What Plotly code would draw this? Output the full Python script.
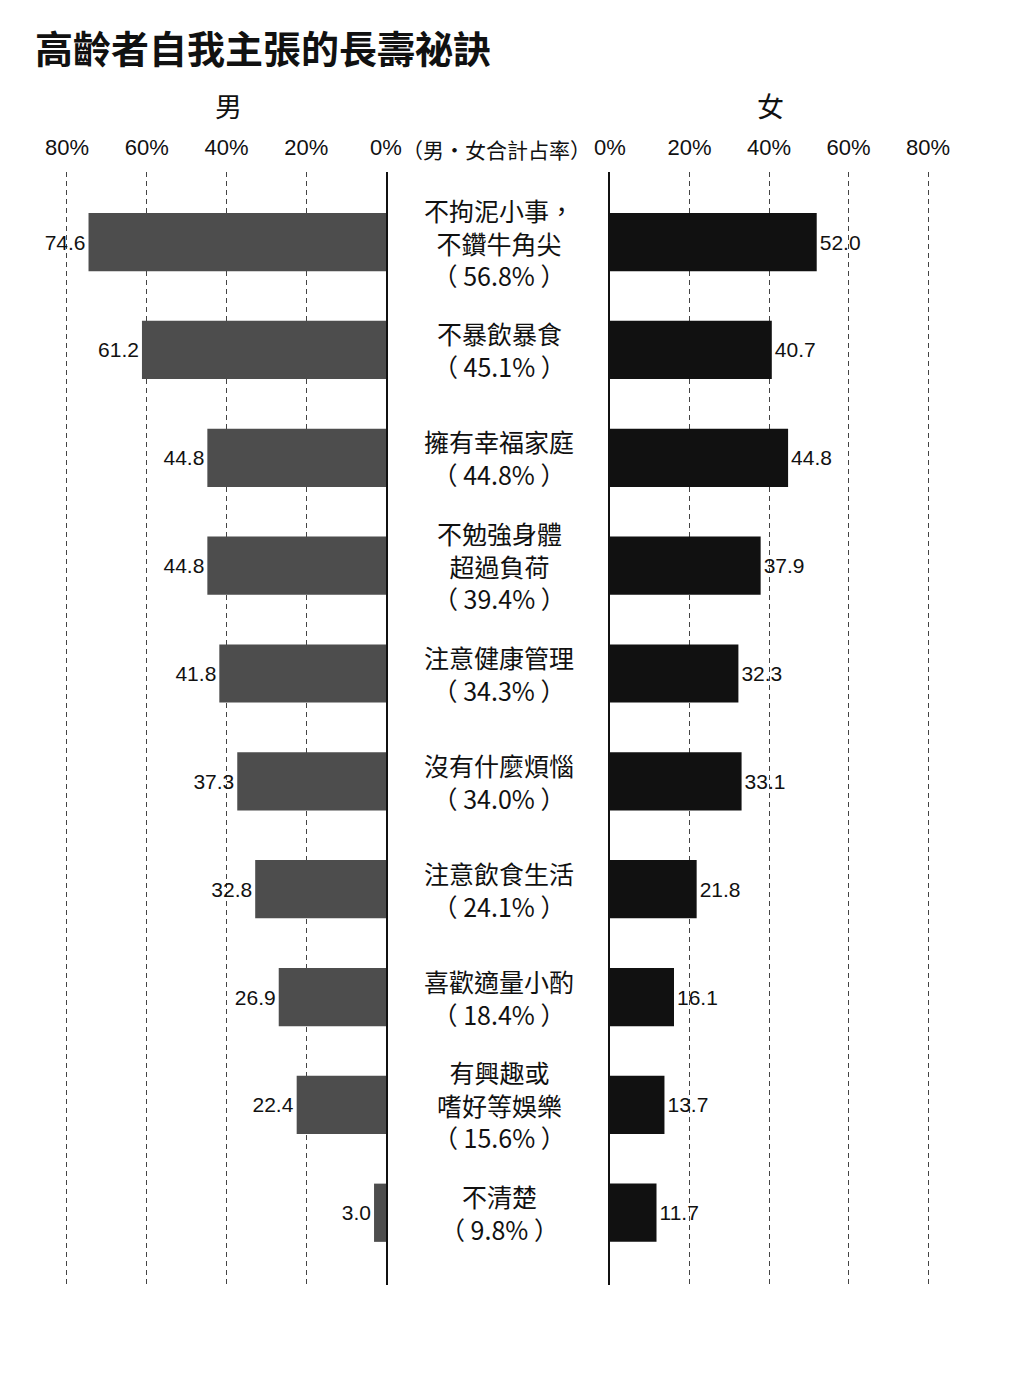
import plotly.graph_objects as go

# 資料
categories = [
    "不拘泥小事，<br>不鑽牛角尖", "不暴飲暴食", "擁有幸福家庭", "不勉強身體<br>超過負荷",
    "注意健康管理", "沒有什麼煩惱", "注意飲食生活", "喜歡適量小酌",
    "有興趣或<br>嗜好等娛樂", "不清楚",
]
male = [74.6, 61.2, 44.8, 44.8, 41.8, 37.3, 32.8, 26.9, 22.4, 3.0]
female = [52.0, 40.7, 44.8, 37.9, 32.3, 33.1, 21.8, 16.1, 13.7, 11.7]
total = [56.8, 45.1, 44.8, 39.4, 34.3, 34.0, 24.1, 18.4, 15.6, 9.8]
tick_vals = [0, 20, 40, 60, 80]
tick_text = ["0%", "20%", "40%", "60%", "80%"]

# 頁面 body 預設 8px 邊距，圖縮小並把座標往回移
PAD = 8
W, H = 1024 - 2 * PAD, 1393 - 2 * PAD
NUM_FONT = "Liberation Sans, Noto Sans CJK TC, sans-serif"
CJK_FONT = "Noto Sans CJK TC, sans-serif"


def px_x(p):
    return (p - PAD) / W


def px_y(p):
    return 1 - (p - PAD) / H


fig = go.Figure()
fig.add_trace(go.Bar(
    y=categories, x=male, orientation="h", xaxis="x", yaxis="y",
    marker=dict(color="#4d4d4d", line=dict(width=0)),
    text=[f"{v:.1f}" for v in male], textposition="outside",
    textfont=dict(family=NUM_FONT, size=21, color="#111"),
    cliponaxis=False, showlegend=False, hoverinfo="x+y",
))
fig.add_trace(go.Bar(
    y=categories, x=female, orientation="h", xaxis="x2", yaxis="y2",
    marker=dict(color="#111111", line=dict(width=0)),
    text=[f"{v:.1f}" for v in female], textposition="outside",
    textfont=dict(family=NUM_FONT, size=21, color="#111"),
    cliponaxis=False, showlegend=False, hoverinfo="x+y",
))

axis_common = dict(
    side="top", tickvals=tick_vals, ticktext=tick_text, ticks="",
    tickfont=dict(family=NUM_FONT, size=22, color="#111"),
    showgrid=True, gridcolor="#444", gridwidth=1, griddash="5px,4px",
    zeroline=False, showline=False, fixedrange=True, automargin=False,
)
y_dom = [px_y(1285), px_y(172)]
y_range = [9.67, -0.65]

# 80% 格線要留在範圍內才會畫出，範圍多留 1 個單位 (約 4px)
fig.update_layout(
    width=W, height=H, paper_bgcolor="white", plot_bgcolor="white",
    margin=dict(l=0, r=0, t=0, b=0, autoexpand=False), bargap=0.46,
    font=dict(family=CJK_FONT, color="#111"),
    xaxis=dict(domain=[px_x(63), px_x(386)], range=[81, 0], anchor="y",
               ticklabelstandoff=12, **axis_common),
    xaxis2=dict(domain=[px_x(610), px_x(932)], range=[0, 81], anchor="y2",
                ticklabelstandoff=12, **axis_common),
    yaxis=dict(domain=y_dom, range=y_range, anchor="x", side="right",
               showticklabels=False, ticks="", showgrid=False,
               showline=True, linecolor="#111", linewidth=1.5,
               categoryorder="array", categoryarray=categories),
    yaxis2=dict(domain=y_dom, range=y_range, anchor="x2", side="left",
                showticklabels=False, ticks="", showgrid=False,
                showline=True, linecolor="#111", linewidth=1.5,
                categoryorder="array", categoryarray=categories),
)

annotations = [
    dict(text="<b>高齡者自我主張的長壽祕訣</b>", x=px_x(33), y=px_y(46),
         xanchor="left", yanchor="middle", font=dict(size=38)),
    dict(text="男", x=px_x(228), y=px_y(106), xanchor="center",
         yanchor="middle", font=dict(size=27)),
    dict(text="女", x=px_x(770), y=px_y(106), xanchor="center",
         yanchor="middle", font=dict(size=27)),
    dict(text="（男‧女合計占率）", x=px_x(496), y=px_y(149), xanchor="center",
         yanchor="middle", font=dict(size=21)),
]
for cat, t in zip(categories, total):
    annotations.append(dict(
        text=f"{cat}<br>（ {t:.1f}% ）", x=px_x(499), xref="paper",
        y=cat, yref="y", xanchor="center", yanchor="middle",
        showarrow=False, font=dict(size=25, color="#111"),
    ))
for a in annotations:
    a.setdefault("xref", "paper")
    a.setdefault("yref", "paper")
    a.setdefault("showarrow", False)
fig.update_layout(annotations=annotations)

fig.write_html("out.html")
